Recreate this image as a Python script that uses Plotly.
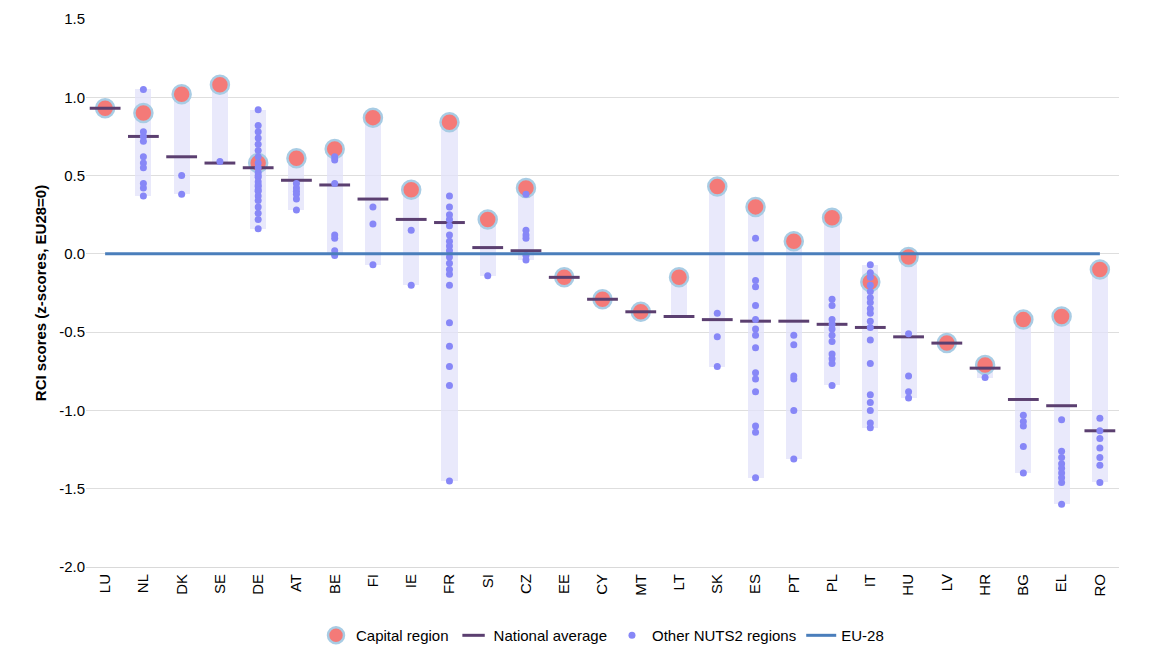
import plotly.graph_objects as go

######## DATA ########
countries = ['LU', 'NL', 'DK', 'SE', 'DE', 'AT', 'BE', 'FI', 'IE', 'FR', 'SI', 'CZ', 'EE', 'CY',
             'MT', 'LT', 'SK', 'ES', 'PT', 'PL', 'IT', 'HU', 'LV', 'HR', 'BG', 'EL', 'RO']
capital = [0.93, 0.90, 1.02, 1.08, 0.58, 0.61, 0.67, 0.87, 0.41, 0.84, 0.22, 0.42, -0.15, -0.29,
           -0.37, -0.15, 0.43, 0.30, 0.08, 0.23, -0.18, -0.02, -0.57, -0.71, -0.42, -0.40, -0.10]
national = [0.93, 0.75, 0.62, 0.58, 0.55, 0.47, 0.44, 0.35, 0.22, 0.20, 0.04, 0.02, -0.15, -0.29,
            -0.37, -0.40, -0.42, -0.43, -0.43, -0.45, -0.47, -0.53, -0.57, -0.73, -0.93, -0.97, -1.13]
others = {
    'LU': [],
    'NL': [1.05, 0.78, 0.75, 0.72, 0.62, 0.58, 0.55, 0.45, 0.42, 0.37],
    'DK': [0.50, 0.38],
    'SE': [0.59],
    'DE': [0.92, 0.82, 0.78, 0.74, 0.70, 0.66, 0.62, 0.58, 0.55, 0.52, 0.50, 0.49, 0.46, 0.44, 0.43,
           0.41, 0.40, 0.37, 0.34, 0.30, 0.26, 0.22, 0.16],
    'AT': [0.45, 0.42, 0.40, 0.38, 0.35, 0.28],
    'BE': [0.62, 0.60, 0.45, 0.12, 0.10, 0.02, -0.01],
    'FI': [0.30, 0.19, -0.07],
    'IE': [0.15, -0.20],
    'FR': [0.37, 0.30, 0.25, 0.22, 0.18, 0.12, 0.08, 0.05, 0.02, -0.02, -0.06, -0.10, -0.13, -0.20,
           -0.44, -0.59, -0.72, -0.84, -1.45],
    'SI': [-0.14],
    'CZ': [0.38, 0.15, 0.12, 0.10, -0.01, -0.04],
    'EE': [], 'CY': [], 'MT': [], 'LT': [],
    'SK': [-0.38, -0.53, -0.72],
    'ES': [0.10, -0.17, -0.21, -0.33, -0.42, -0.48, -0.52, -0.60, -0.76, -0.80, -0.88, -1.10, -1.14, -1.43],
    'PT': [-0.52, -0.58, -0.78, -0.80, -1.00, -1.31],
    'PL': [-0.29, -0.33, -0.42, -0.45, -0.48, -0.52, -0.56, -0.64, -0.67, -0.70, -0.84],
    'IT': [-0.07, -0.12, -0.15, -0.20, -0.24, -0.28, -0.31, -0.35, -0.38, -0.43, -0.47, -0.55,
           -0.70, -0.90, -0.95, -1.00, -1.08, -1.11],
    'HU': [-0.51, -0.78, -0.88, -0.92],
    'LV': [],
    'HR': [-0.79],
    'BG': [-1.03, -1.07, -1.10, -1.23, -1.40],
    'EL': [-1.06, -1.26, -1.30, -1.34, -1.37, -1.40, -1.43, -1.46, -1.60],
    'RO': [-1.05, -1.13, -1.18, -1.24, -1.30, -1.35, -1.46],
}
eu28 = 0.0
ytick_vals = [1.5, 1.0, 0.5, 0.0, -0.5, -1.0, -1.5, -2.0]
ytick_text = ['1.5', '1.0', '0.5', '0.0', '-0.5', '-1.0', '-1.5', '-2.0']

######## PLOT ########
lo, hi = [], []
for c, cap, nat in zip(countries, capital, national):
    vals = [cap, nat] + others[c]
    lo.append(min(vals))
    hi.append(max(vals))

ox, oy = [], []
for c in countries:
    ox += [c] * len(others[c])
    oy += others[c]

fig = go.Figure()
fig.add_trace(go.Bar(x=countries, y=[h - l for h, l in zip(hi, lo)], base=lo, width=0.42,
                     marker=dict(color='rgba(225,225,250,0.75)', line_width=0), showlegend=False,
                     hoverinfo='skip'))
fig.add_trace(go.Scatter(x=countries, y=capital, mode='markers', name='Capital region',
                         marker=dict(size=18, color='#f47a78', line=dict(color='#a8cce4', width=2.5))))
fig.add_trace(go.Scatter(x=countries, y=national, mode='markers', name='National average',
                         marker=dict(symbol='line-ew', size=22, line=dict(color='#5b3f70', width=3))))
fig.add_trace(go.Scatter(x=ox, y=oy, mode='markers', name='Other NUTS2 regions',
                         marker=dict(size=7, color='#8787f7')))
fig.add_trace(go.Scatter(x=[countries[0], countries[-1]], y=[eu28, eu28], mode='lines', name='EU-28',
                         line=dict(color='#4a7ebb', width=3)))

fig.update_layout(
    width=1153, height=650, plot_bgcolor='white', paper_bgcolor='white',
    font=dict(family='Liberation Sans, Arial', size=15, color='black'),
    margin=dict(l=78, r=42, t=11, b=91, autoexpand=False),
    barmode='overlay', bargap=0,
    legend=dict(orientation='h', x=0.5, xanchor='center', y=-0.095, yanchor='top', font_size=15),
)
fig.update_yaxes(range=[-2.0, 1.5], tickvals=ytick_vals, ticktext=ytick_text, showgrid=True,
                 gridcolor='#dedede', zeroline=False, automargin=False,
                 title=dict(text='<b>RCI scores (z-scores, EU28=0)</b>', font_size=15, standoff=8))
fig.update_xaxes(range=[-0.5, len(countries) - 0.5], showgrid=False, tickangle=-90, showline=True,
                 linecolor='#d9d9d9', automargin=False)

fig.write_html("out.html")
